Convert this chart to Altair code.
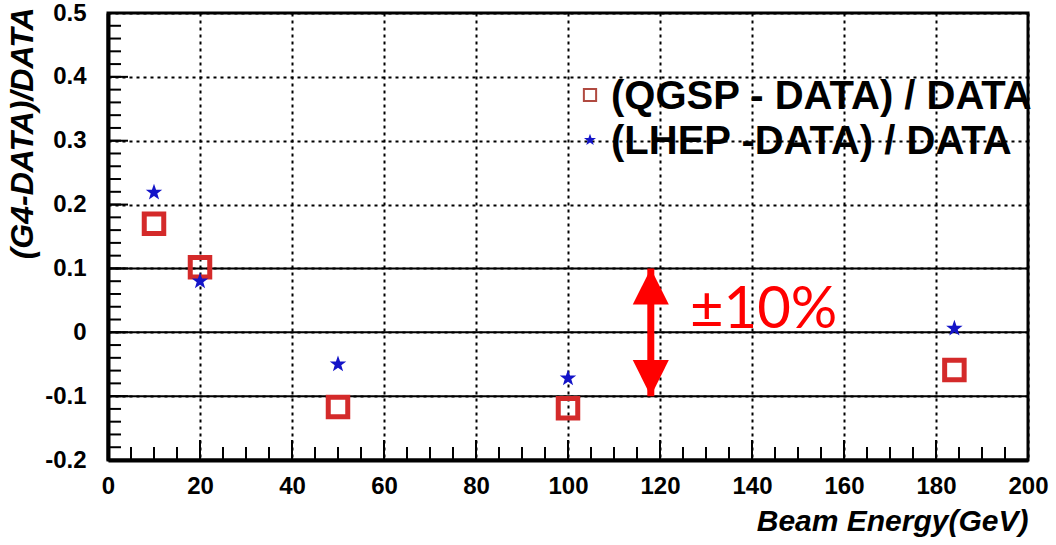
import altair as alt
import pandas as pd

# ---- data ----
energy = [10, 20, 50, 100, 184]
qgsp = [0.170, 0.102, -0.117, -0.119, -0.059]
lhep = [0.219, 0.080, -0.050, -0.072, 0.006]

x_major = [0, 20, 40, 60, 80, 100, 120, 140, 160, 180, 200]
y_major = [-0.2, -0.1, 0.0, 0.1, 0.2, 0.3, 0.4, 0.5]
x_minor = list(range(0, 201, 5))
y_minor = [round(-0.2 + 0.02 * i, 2) for i in range(36)]
band_lines = [-0.1, 0.0, 0.1]
band_arrow = [-0.1, 0.1]
band_label = "±10%"
legend_labels = ["(QGSP - DATA) / DATA", "(LHEP -DATA) / DATA"]

W, H = 920, 447
FONT = "Liberation Sans"
RED = "#d42a2a"
BLUE = "#1414c8"
STAR = "M0,-1L0.24,-0.32L0.95,-0.31L0.38,0.12L0.59,0.81L0,0.4L-0.59,0.81L-0.38,0.12L-0.95,-0.31L-0.24,-0.32Z"

xs = alt.Scale(domain=[0, 200], nice=False, zero=False)
ys = alt.Scale(domain=[-0.2, 0.5], nice=False, zero=False)

df_q = pd.DataFrame({"E": energy, "v": qgsp})
df_l = pd.DataFrame({"E": energy, "v": lhep})

x_axis = alt.Axis(values=x_major, grid=True, gridDash=[3, 4], gridColor="black",
                  gridWidth=2, gridOpacity=1, ticks=False, domain=True, domainColor="black",
                  domainWidth=4, labelFont=FONT, labelFontSize=24, labelFontWeight="bold",
                  labelColor="black", labelPadding=14, labelFlush=False,
                  title="Beam Energy(GeV)", titleFont=FONT, titleFontSize=30,
                  titleFontStyle="italic", titleFontWeight="bold", titleColor="black",
                  titleAnchor="end", titlePadding=8)
y_axis = alt.Axis(values=y_major, grid=True, gridDash=[3, 4], gridColor="black",
                  gridWidth=2, gridOpacity=1, ticks=False, domain=True, domainColor="black",
                  domainWidth=4, labelFont=FONT, labelFontSize=24, labelFontWeight="bold",
                  labelColor="black", labelPadding=22, labelFlush=False,
                  labelExpr="datum.value == 0 ? '0' : (datum.value < 0 ? '-' : '') + format(abs(datum.value), '.1f')",
                  title="(G4-DATA)/DATA", titleFont=FONT, titleFontSize=32,
                  titleFontStyle="italic", titleFontWeight="bold", titleColor="black",
                  titleAngle=-90, titleAlign="right", titleBaseline="middle",
                  titleX=-86, titleY=-6)


def X(field):
    return alt.X(field, type="quantitative", scale=xs, axis=x_axis)


def Y(field):
    return alt.Y(field, type="quantitative", scale=ys, axis=y_axis)


# solid horizontal lines at +-10% and 0
solid = alt.Chart(pd.DataFrame({"y": band_lines})).mark_rule(color="black", strokeWidth=2).encode(
    y=Y("y"), x=alt.value(0), x2=alt.value(W))

# x axis holder
xholder = alt.Chart(pd.DataFrame({"x": [0]})).mark_rule(opacity=0).encode(
    x=X("x"), y=alt.value(0), y2=alt.value(1))

# inward ticks
ymin_t = alt.Chart(pd.DataFrame({"y": y_minor})).mark_rule(color="black", strokeWidth=2).encode(
    y=Y("y"), x=alt.value(0), x2=alt.value(13))
ymaj_t = alt.Chart(pd.DataFrame({"y": y_major})).mark_rule(color="black", strokeWidth=2).encode(
    y=Y("y"), x=alt.value(0), x2=alt.value(20))
xmin_t = alt.Chart(pd.DataFrame({"x": x_minor})).mark_rule(color="black", strokeWidth=2).encode(
    x=X("x"), y=alt.value(H), y2=alt.value(H - 13))
xmaj_t = alt.Chart(pd.DataFrame({"x": x_major})).mark_rule(color="black", strokeWidth=2).encode(
    x=X("x"), y=alt.value(H), y2=alt.value(H - 20))

# data points
sq = alt.Chart(df_q).mark_point(shape="square", filled=False, size=380, strokeWidth=5,
                                color=RED, opacity=1).encode(x=X("E"), y=Y("v"))
st = alt.Chart(df_l).mark_point(shape=STAR, filled=True, size=300, color=BLUE,
                                opacity=1).encode(x=X("E"), y=Y("v"))

# +-10% arrow
arrow_x = 118
shaft = alt.Chart(pd.DataFrame({"a": [band_arrow[0]], "b": [band_arrow[1]], "x": [arrow_x]})).mark_rule(
    color="red", strokeWidth=7).encode(x=X("x"), y=Y("a"), y2="b:Q")
head_up = alt.Chart(pd.DataFrame({"x": [arrow_x], "y": [band_arrow[1]]})).mark_point(
    shape="M0,-1L1,1L-1,1Z", filled=True, size=1300, color="red", opacity=1, yOffset=18).encode(
    x=X("x"), y=Y("y"))
head_dn = alt.Chart(pd.DataFrame({"x": [arrow_x], "y": [band_arrow[0]]})).mark_point(
    shape="M0,1L1,-1L-1,-1Z", filled=True, size=1300, color="red", opacity=1, yOffset=-18).encode(
    x=X("x"), y=Y("y"))
label = alt.Chart(pd.DataFrame({"x": [126.5], "y": [0.006], "t": [band_label]})).mark_text(
    font="Lato", fontSize=58, color="red", align="left", baseline="alphabetic").encode(
    x=X("x"), y=Y("y"), text="t:N")

# legend (drawn manually)
leg_sq = alt.Chart(pd.DataFrame({"k": [0]})).mark_point(
    shape="square", filled=False, size=150, strokeWidth=2, color="#b04a40", opacity=1).encode(
    x=alt.value(482), y=alt.value(82))
leg_st = alt.Chart(pd.DataFrame({"k": [0]})).mark_point(
    shape=STAR, filled=True, size=160, color=BLUE, opacity=1).encode(
    x=alt.value(482), y=alt.value(127))
leg_t1 = alt.Chart(pd.DataFrame({"t": [legend_labels[0]]})).mark_text(
    font=FONT, fontSize=40, fontWeight="bold", color="black", align="left", baseline="middle").encode(
    x=alt.value(503), y=alt.value(84), text="t:N")
leg_t2 = alt.Chart(pd.DataFrame({"t": [legend_labels[1]]})).mark_text(
    font=FONT, fontSize=40, fontWeight="bold", color="black", align="left", baseline="middle").encode(
    x=alt.value(503), y=alt.value(129), text="t:N")

chart = alt.layer(
    solid, xholder, ymin_t, ymaj_t, xmin_t, xmaj_t,
    shaft, head_up, head_dn, label,
    sq, st, leg_sq, leg_st, leg_t1, leg_t2
).properties(
    width=W, height=H,
    autosize=alt.AutoSizeParams(type="none"),
    padding={"left": 108, "top": 13, "right": 28, "bottom": 85},
    background="white",
).configure_view(stroke="black", strokeWidth=3)

chart.save("out.html", embed_options={"renderer": "svg", "actions": False})
